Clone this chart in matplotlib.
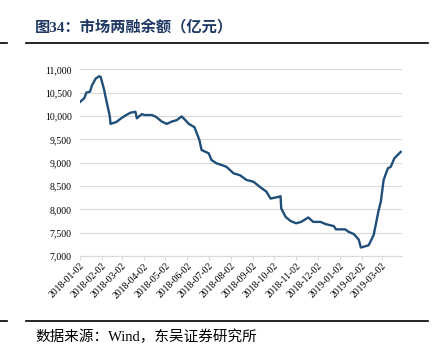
import matplotlib
matplotlib.use("Agg")
import matplotlib.pyplot as plt
import matplotlib.dates as mdates
from matplotlib.ticker import FuncFormatter
import pandas as pd

# 两融余额 (亿元)
dates = [
    "2018-01-02", "2018-01-08", "2018-01-11", "2018-01-16", "2018-01-19", "2018-01-24",
    "2018-01-29", "2018-01-31", "2018-02-05", "2018-02-06", "2018-02-09", "2018-02-12",
    "2018-02-13", "2018-02-14", "2018-02-22", "2018-03-01", "2018-03-08", "2018-03-14",
    "2018-03-21", "2018-03-23", "2018-03-30", "2018-04-03", "2018-04-13", "2018-04-19",
    "2018-04-27", "2018-05-04", "2018-05-11", "2018-05-18", "2018-05-25", "2018-05-29",
    "2018-06-04", "2018-06-12", "2018-06-19", "2018-06-22", "2018-07-02", "2018-07-06",
    "2018-07-13", "2018-07-20", "2018-07-27", "2018-08-06", "2018-08-15", "2018-08-24",
    "2018-09-03", "2018-09-12", "2018-09-21", "2018-09-27", "2018-10-08", "2018-10-11",
    "2018-10-12", "2018-10-18", "2018-10-25", "2018-11-02", "2018-11-09", "2018-11-19",
    "2018-11-26", "2018-12-06", "2018-12-14", "2018-12-25", "2018-12-28", "2019-01-10",
    "2019-01-15", "2019-01-22", "2019-01-29", "2019-02-01", "2019-02-12", "2019-02-19",
    "2019-02-26", "2019-03-01", "2019-03-05", "2019-03-11", "2019-03-15", "2019-03-20",
    "2019-03-27", "2019-03-29",
]
balance = [
    10300, 10380, 10500, 10520, 10660, 10800,
    10850, 10840, 10560, 10480, 10270, 10060,
    9980, 9830, 9870, 9950, 10020, 10070,
    10090, 9950, 10040, 10020, 10020, 9980,
    9880, 9830, 9880, 9910, 9990, 9930,
    9830, 9760, 9480, 9270, 9200, 9055,
    8985, 8950, 8910, 8770, 8730, 8630,
    8590, 8480, 8380, 8230, 8265, 8280,
    8020, 7840, 7750, 7700, 7730, 7825,
    7730, 7730, 7680, 7640, 7570, 7570,
    7515, 7470, 7350, 7180, 7230, 7450,
    7980, 8160, 8630, 8880, 8910, 9090,
    9200, 9230,
]
tick_dates = pd.date_range("2018-01-01", "2019-03-01", freq="MS") + pd.Timedelta(days=1)
y_ticks = list(range(7000, 11001, 500))

x = pd.to_datetime(dates)

fig = plt.figure(figsize=(4.38, 3.6), dpi=100)
ax = fig.add_axes([0.1826, 0.289, 0.7355, 0.5185])

ax.plot(x, balance, color="#1f4e79", linewidth=1.7, solid_joinstyle="round")

ax.set_ylim(7000, 11000)
ax.set_yticks(y_ticks)
ax.yaxis.set_major_formatter(FuncFormatter(lambda v, p: f"{int(v):,}"))
ax.set_xlim(pd.Timestamp("2018-01-02"), pd.Timestamp("2019-03-31"))
ax.set_xticks(tick_dates)
ax.xaxis.set_major_formatter(mdates.DateFormatter("%Y-%m-%d"))

ax.grid(axis="y", color="#d9d9d9", linewidth=0.8)
ax.set_axisbelow(True)
for s in ["left", "right", "top"]:
    ax.spines[s].set_visible(False)
ax.spines["bottom"].set_color("#d9d9d9")
ax.spines["bottom"].set_linewidth(0.8)
ax.tick_params(axis="y", length=0, labelsize=7, pad=6)
ax.tick_params(axis="x", length=3, color="#d9d9d9", labelsize=7, pad=1)
for lab in ax.get_yticklabels() + ax.get_xticklabels():
    lab.set_fontfamily("Liberation Serif")
for lab in ax.get_xticklabels():
    lab.set_rotation(45)
    lab.set_ha("right")
    lab.set_rotation_mode("anchor")

fig.text(0.08, 0.922, "图34：市场两融余额（亿元）", fontsize=11, fontweight="bold",
         color="#1f3864", family=["Liberation Serif", "Noto Sans CJK SC"], va="center")
fig.add_artist(plt.Line2D([0.06, 0.977], [0.881, 0.881], color="black", linewidth=1.2))
fig.add_artist(plt.Line2D([0.0, 0.017], [0.881, 0.881], color="black", linewidth=1.2))
fig.add_artist(plt.Line2D([0.06, 0.977], [0.108, 0.108], color="black", linewidth=1.2))
fig.add_artist(plt.Line2D([0.0, 0.017], [0.108, 0.108], color="black", linewidth=1.2))
fig.text(0.08, 0.064, "数据来源：Wind，东吴证券研究所", fontsize=10.5, color="black",
         family=["Liberation Serif", "Noto Sans CJK SC"], va="center")

fig.savefig("out.png", dpi=100)
